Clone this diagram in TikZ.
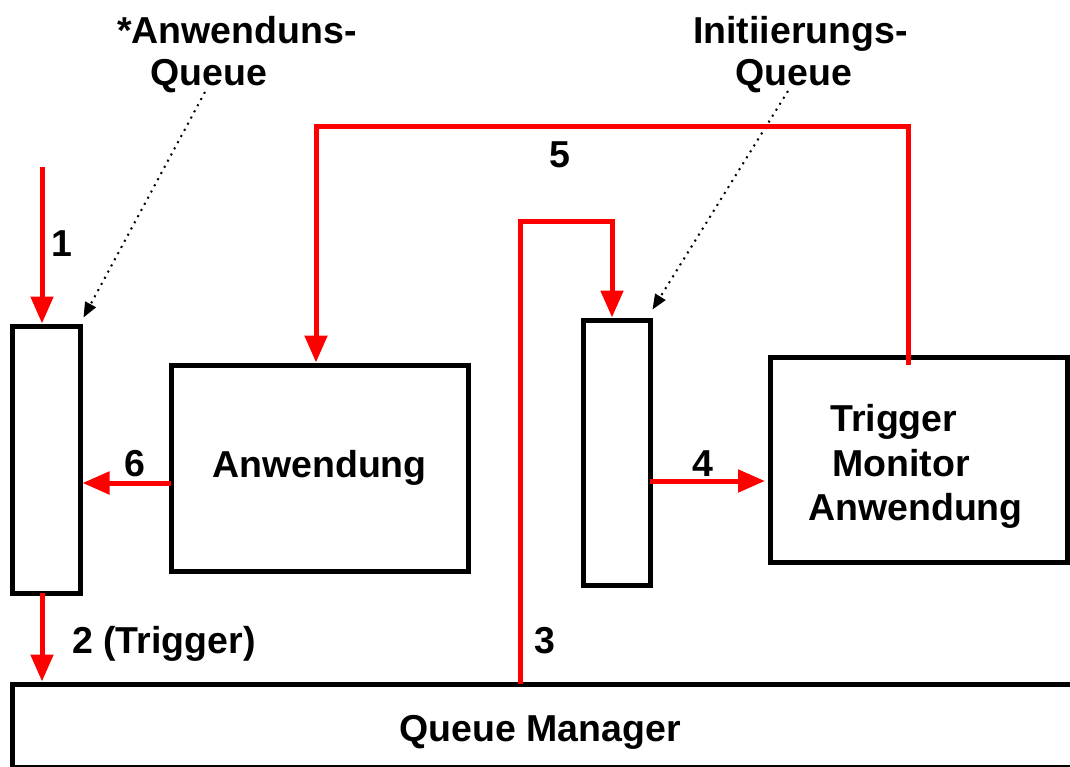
\documentclass[tikz,border=0pt]{standalone}
\usepackage{fontspec}
\setmainfont{Liberation Sans}
\usetikzlibrary{arrows.meta}
\begin{document}
\begin{tikzpicture}[x=1pt,y=-1pt,
  box/.style={draw=black, line width=5pt, inner sep=0pt},
  lbl/.style={font=\fontsize{37.5}{42}\selectfont\bfseries, inner sep=0pt},
  flow/.style={draw=red, line width=5pt, -{Triangle[length=27pt,width=22pt]}},
  pointer/.style={draw=black, line width=2pt, dash pattern=on 2pt off 5pt,
    -{Triangle[length=15pt,width=12pt]}}]
\useasboundingbox (0,0) rectangle (1070,767);

% queues, applications and the queue manager
\node[box, minimum width=68pt, minimum height=267pt] (queueA) at (46,459.5) {};
\node[box, minimum width=297pt, minimum height=206pt, lbl] (app) at (319.5,468) {Anwendung};
\node[box, minimum width=67pt, minimum height=265pt] (queueI) at (616.5,452.5) {};
\node[box, minimum width=297pt, minimum height=205pt] (tm) at (918.5,459.5) {};
\node[lbl, anchor=north west, align=left, font=\fontsize{37.5}{44.5}\selectfont\bfseries]
  (tmtext) at (808,404.5) {\hspace*{22pt}Trigger\\\hspace*{24pt}Monitor\\Anwendung};
\node[box, minimum width=1088pt, minimum height=83pt] (qm) at (556,725.5) {};
\node[lbl, anchor=base] (qmtext) at (540,741) {Queue Manager};

% queue captions
\node[lbl, anchor=north west, align=left] (qaLabel) at (117,16.5)
  {*Anwenduns-\\\hspace*{33pt}Queue};
\node[lbl, anchor=north west, align=left] (qiLabel) at (693,16.5)
  {Initiierungs-\\\hspace*{42pt}Queue};
\coordinate (qaFrom) at (205,92);
\coordinate (qiFrom) at (788,91);
\draw[pointer] (qaFrom) -- ([shift={(1,-6)}]queueA.north east);
\draw[pointer] (qiFrom) -- ([shift={(0,-8)}]queueI.north east);

% message flow
\coordinate (in1) at (42,167);
\draw[flow] (in1) -- (in1 |- queueA.north);
\node[lbl, anchor=base] (n1) at (62,256) {1};

\coordinate (out2) at (42,593);
\draw[flow] (out2) -- (out2 |- qm.north);
\node[lbl, anchor=base west] (n2) at (72,653) {2 (Trigger)};

\coordinate (s3) at (520,684);
\coordinate (k3) at (520,222);
\coordinate (e3) at (612,222);
\draw[flow] (s3) -- (k3) -- (e3) -- (e3 |- queueI.north);
\node[lbl, anchor=base] (n3) at (545,653) {3};

\coordinate (s4) at (650,481);
\coordinate (e4) at (765,481);
\draw[flow] (s4) -- (e4);
\node[lbl, anchor=base] (n4) at (703,476) {4};

\coordinate (s5) at (908,365);
\coordinate (k5) at (908,127);
\coordinate (e5) at (316,127);
\draw[flow] (s5) -- (k5) -- (e5) -- (e5 |- app.north);
\node[lbl, anchor=base] (n5) at (560,168) {5};

\coordinate (s6) at (171,483);
\draw[flow] (s6) -- (s6 -| queueA.east);
\node[lbl, anchor=base] (n6) at (135,476) {6};
\end{tikzpicture}
\end{document}
